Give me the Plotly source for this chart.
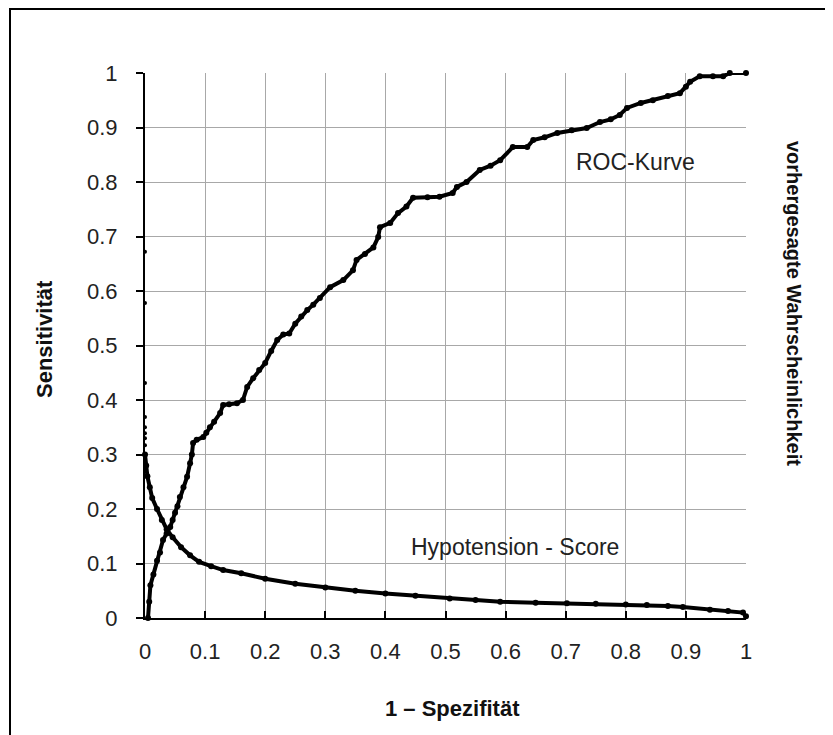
import plotly.graph_objects as go

# ROC curve (1 - specificity, sensitivity)
roc_x = [0.005, 0.007, 0.009, 0.014, 0.02, 0.025, 0.03, 0.036, 0.042, 0.046, 0.05, 0.054,
         0.058, 0.064, 0.07, 0.075, 0.078, 0.08, 0.086, 0.097, 0.102, 0.108, 0.115, 0.125,
         0.13, 0.14, 0.153, 0.163, 0.17, 0.18, 0.19, 0.2, 0.21, 0.22, 0.23, 0.24, 0.25,
         0.26, 0.27, 0.28, 0.291, 0.308, 0.33, 0.346, 0.352, 0.366, 0.38, 0.388, 0.391,
         0.408, 0.421, 0.435, 0.446, 0.47, 0.49, 0.512, 0.519, 0.535, 0.557, 0.575, 0.591,
         0.612, 0.636, 0.646, 0.665, 0.686, 0.71, 0.735, 0.757, 0.775, 0.79, 0.802, 0.825,
         0.845, 0.87, 0.89, 0.9, 0.907, 0.923, 0.945, 0.962, 0.973, 1.0]
roc_y = [0.0, 0.03, 0.06, 0.08, 0.105, 0.12, 0.143, 0.155, 0.167, 0.18, 0.193, 0.205,
         0.222, 0.24, 0.259, 0.284, 0.30, 0.321, 0.327, 0.332, 0.34, 0.35, 0.36, 0.376,
         0.391, 0.392, 0.394, 0.40, 0.424, 0.44, 0.455, 0.468, 0.49, 0.51, 0.52, 0.522, 0.54,
         0.553, 0.565, 0.575, 0.587, 0.607, 0.62, 0.638, 0.657, 0.668, 0.68, 0.699, 0.717,
         0.725, 0.743, 0.755, 0.771, 0.772, 0.773, 0.78, 0.791, 0.80, 0.822, 0.83, 0.840,
         0.864, 0.864, 0.877, 0.882, 0.89, 0.895, 0.899, 0.91, 0.915, 0.923, 0.936, 0.945,
         0.950, 0.958, 0.963, 0.975, 0.984, 0.994, 0.994, 0.994, 1.0, 1.0]

# Hypotension score (predicted probability)
hyp_x = [0.0, 0.002, 0.004, 0.008, 0.012, 0.02, 0.028, 0.036, 0.046, 0.06, 0.075, 0.09,
         0.11, 0.13, 0.16, 0.2, 0.25, 0.3, 0.35, 0.4, 0.45, 0.507, 0.55, 0.591, 0.65,
         0.702, 0.75, 0.8, 0.835, 0.87, 0.895, 0.94, 0.97, 0.995, 1.0]
hyp_y = [0.30, 0.28, 0.26, 0.24, 0.22, 0.20, 0.18, 0.163, 0.148, 0.13, 0.115, 0.103,
         0.095, 0.088, 0.082, 0.072, 0.063, 0.056, 0.050, 0.045, 0.041, 0.036, 0.033, 0.030,
         0.028, 0.027, 0.026, 0.025, 0.024, 0.022, 0.020, 0.015, 0.013, 0.010, 0.003]

# isolated points on the left axis
extra_x = [0, 0, 0, 0, 0, 0, 0, 0]
extra_y = [0.672, 0.578, 0.431, 0.369, 0.35, 0.339, 0.33, 0.317]

tick_vals = [0, 0.1, 0.2, 0.3, 0.4, 0.5, 0.6, 0.7, 0.8, 0.9, 1]
tick_text = ["0", "0.1", "0.2", "0.3", "0.4", "0.5", "0.6", "0.7", "0.8", "0.9", "1"]

FONT = "Liberation Sans, Arial, sans-serif"

fig = go.Figure()
fig.add_trace(go.Scatter(x=roc_x, y=roc_y, mode="lines+markers",
                         line=dict(color="black", width=4),
                         marker=dict(color="black", size=6), cliponaxis=False))
fig.add_trace(go.Scatter(x=hyp_x, y=hyp_y, mode="lines+markers",
                         line=dict(color="black", width=4),
                         marker=dict(color="black", size=6), cliponaxis=False))
fig.add_trace(go.Scatter(x=extra_x, y=extra_y, mode="markers",
                         marker=dict(color="black", size=4), cliponaxis=False))

OFF = 8  # browser body margin
W, H = 833 - OFF, 735 - OFF
L, T = 145 - OFF, 73 - OFF
R = 833 - 746
B = 735 - 618
pw, ph = W - L - R, H - T - B

def px(xpage):
    return (xpage - OFF - L) / pw

def py(ypage):
    return (H - B - (ypage - OFF)) / ph

def ann(text, x, y, size, color, angle=0):
    return dict(text=text, x=px(x), y=py(y), xref="paper", yref="paper",
                xanchor="center", yanchor="middle", showarrow=False,
                textangle=angle, font=dict(size=size, color=color))

fig.update_layout(
    width=W, height=H, showlegend=False,
    margin=dict(l=L, r=R, t=T, b=B, pad=0),
    paper_bgcolor="white", plot_bgcolor="white",
    font=dict(family=FONT, color="black", size=22),
    xaxis=dict(range=[0, 1], tickvals=tick_vals, ticktext=tick_text,
               showgrid=True, gridcolor="#a8a8a8", gridwidth=1,
               showline=True, linecolor="black", linewidth=2,
               ticks="inside", ticklen=7, tickcolor="black", tickwidth=1.5,
               ticklabelstandoff=13, zeroline=False,
               tickfont=dict(size=22, color="#222")),
    yaxis=dict(range=[0, 1], tickvals=tick_vals, ticktext=tick_text,
               showgrid=True, gridcolor="#a8a8a8", gridwidth=1,
               showline=True, linecolor="black", linewidth=2,
               ticks="outside", ticklen=7, tickcolor="black", tickwidth=1.5,
               ticklabelstandoff=14, zeroline=False,
               tickfont=dict(size=22, color="#222")),
    shapes=[dict(type="rect", xref="paper", yref="paper",
                 x0=px(10), x1=px(850), y0=py(760), y1=py(9),
                 line=dict(color="black", width=2), fillcolor="rgba(0,0,0,0)", layer="below")],
    annotations=[
        ann("ROC-Kurve", 635, 162, 23, "#222"),
        ann("Hypotension - Score", 515, 547, 23, "#222"),
        ann("<b>Sensitivität</b>", 44, 339, 22, "#111", -90),
        ann("<b>vorhergesagte Wahrscheinlichkeit</b>", 794, 303, 20, "#111", 90),
        ann("<b>1 – Spezifität</b>", 452, 708, 22, "#111"),
    ],
)

fig.write_html("out.html")
